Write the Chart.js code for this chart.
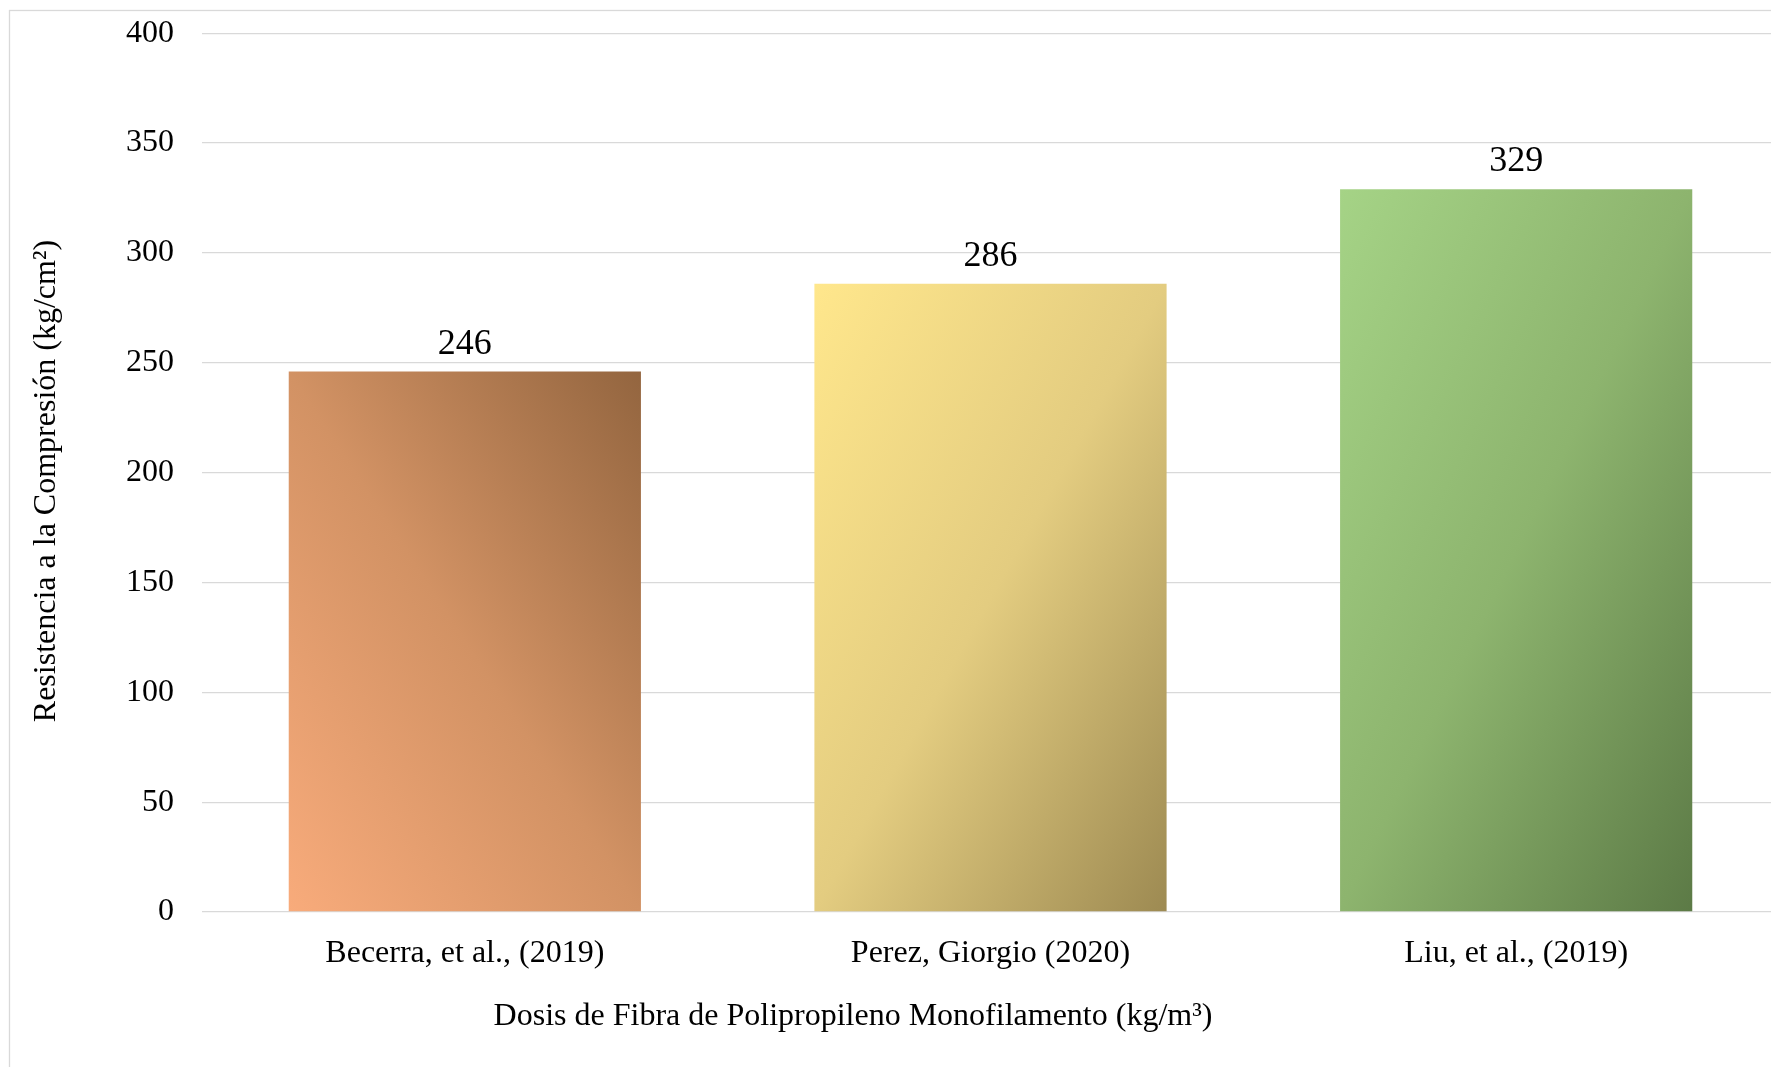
<!DOCTYPE html>
<html>
<head>
<meta charset="utf-8">
<script src="https://cdn.jsdelivr.net/npm/chart.js@4.4.1/dist/chart.umd.min.js"></script>
<style>
  html, body { margin: 0; padding: 0; background: #fff; overflow: hidden; }
  #wrap { position: relative; width: 1780px; height: 1067px; overflow: hidden; }
  #chart { position: absolute; left: 0; top: -14px; }
</style>
</head>
<body>
<div id="wrap"><canvas id="chart" width="1780" height="1081"></canvas></div>
<script>
const categories = ['Becerra, et al., (2019)', 'Perez, Giorgio (2020)', 'Liu, et al., (2019)'];
const resistencia = [246, 286, 329];
// light / middle / dark stops of each bar's gradient
const lightColors = ['#f8ab7b', '#ffe78c', '#a5d386'];
const midColors = ['#d29264', '#e3cc80', '#8db46e'];
const darkColors = ['#93653f', '#9d8a52', '#5c7a46'];
// 'up': light bottom-left -> dark top-right, 'down': light top-left -> dark bottom-right
const gradientDir = ['up', 'down', 'down'];

const FONT = '"Liberation Serif", "Times New Roman", serif';
const BAR_PCT = 0.67;
const SHIFT = 14; // canvas sits this far above the page top

// diagonal gradient where the two other corners sit on the middle stop
function barGradient(ctx, l, t, r, b, dir, c0, cm, c1) {
  const w = r - l, h = b - t;
  const cx = (l + r) / 2, cy = (t + b) / 2;
  const k = (w * h) / (w * w + h * h);
  const dx = h, dy = dir === 'up' ? -w : w;
  const g = ctx.createLinearGradient(cx - k * dx, cy - k * dy, cx + k * dx, cy + k * dy);
  g.addColorStop(0, c0);
  g.addColorStop(0.5, cm);
  g.addColorStop(1, c1);
  return g;
}

const framePlugin = {
  id: 'frame',
  beforeDraw(chart) {
    const ctx = chart.ctx;
    ctx.save();
    ctx.strokeStyle = '#d9d9d9';
    ctx.lineWidth = 1.3;
    ctx.strokeRect(9.5, 10.5 + SHIFT, 4000, 4000);
    ctx.restore();
  }
};

const labelsPlugin = {
  id: 'valueLabels',
  afterDatasetsDraw(chart) {
    const ctx = chart.ctx;
    const meta = chart.getDatasetMeta(0);
    ctx.save();
    ctx.font = '36px ' + FONT;
    ctx.fillStyle = '#000';
    ctx.textAlign = 'center';
    ctx.textBaseline = 'alphabetic';
    meta.data.forEach((el, i) => {
      ctx.fillText(String(resistencia[i]), el.x, el.y - 18);
    });
    ctx.restore();
  }
};

const titlesPlugin = {
  id: 'axisTitles',
  afterDraw(chart) {
    const ctx = chart.ctx;
    ctx.save();
    ctx.font = '32px ' + FONT;
    ctx.fillStyle = '#000';
    ctx.textAlign = 'center';
    ctx.textBaseline = 'middle';
    ctx.fillText('Dosis de Fibra de Polipropileno Monofilamento (kg/m³)', 853, 1017 + SHIFT);
    ctx.translate(47, 481 + SHIFT);
    ctx.rotate(-Math.PI / 2);
    ctx.fillText('Resistencia a la Compresión (kg/cm²)', 0, 0);
    ctx.restore();
  }
};

new Chart(document.getElementById('chart'), {
  type: 'bar',
  data: {
    labels: categories,
    datasets: [{
      data: resistencia,
      barPercentage: BAR_PCT,
      categoryPercentage: 1,
      borderWidth: 0,
      backgroundColor: (c) => {
        const chart = c.chart;
        const i = c.dataIndex;
        if (!chart.chartArea || i === undefined) return lightColors[i || 0];
        const xs = chart.scales.x, ys = chart.scales.y;
        const half = (xs.width / categories.length) * BAR_PCT / 2;
        const cx = xs.getPixelForValue(i);
        return barGradient(chart.ctx, cx - half, ys.getPixelForValue(resistencia[i]),
          cx + half, ys.getPixelForValue(0), gradientDir[i],
          lightColors[i], midColors[i], darkColors[i]);
      }
    }]
  },
  options: {
    responsive: false,
    animation: false,
    devicePixelRatio: 1,
    layout: { padding: { top: 18, left: 0, right: 1, bottom: 0 } },
    plugins: { legend: { display: false }, tooltip: { enabled: false } },
    scales: {
      x: {
        grid: { display: false },
        border: { display: false },
        ticks: { color: '#000', font: { family: FONT, size: 32 }, padding: 14, maxRotation: 0 },
        afterFit(s) { s.height = 155; }
      },
      y: {
        min: 0,
        max: 400,
        ticks: { stepSize: 50, color: '#000', font: { family: FONT, size: 32 }, padding: 28 },
        grid: { color: '#d9d9d9', lineWidth: 1.3, drawTicks: false },
        border: { display: false },
        afterFit(s) { s.width = 202; }
      }
    }
  },
  plugins: [framePlugin, labelsPlugin, titlesPlugin]
});
</script>
</body>
</html>
